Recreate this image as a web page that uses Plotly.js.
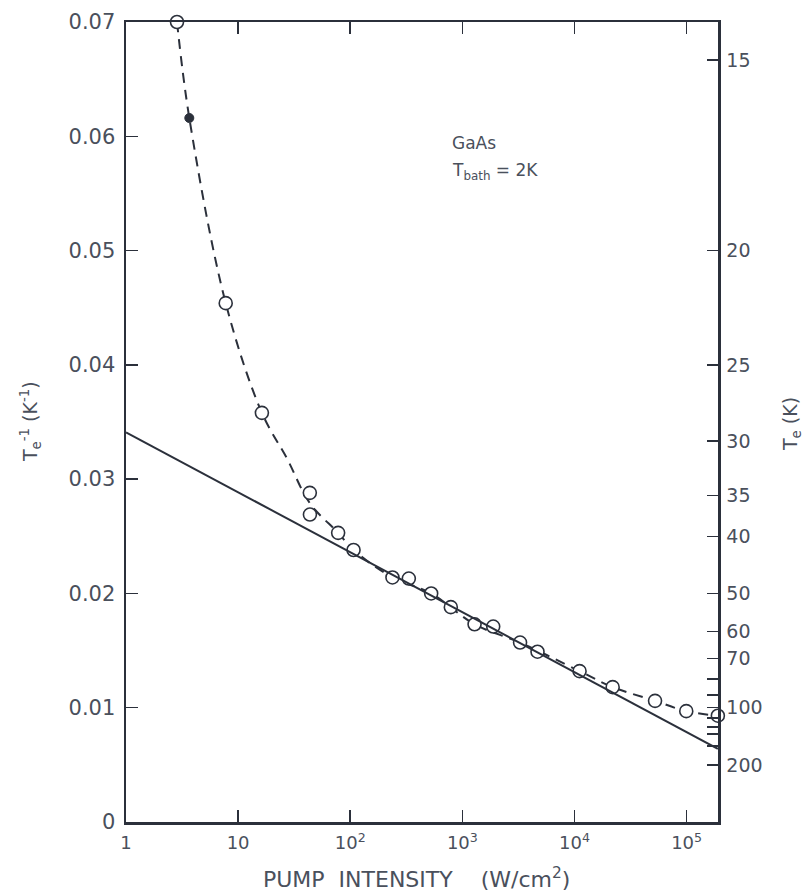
<!DOCTYPE html>
<html>
<head>
<meta charset="utf-8">
<script src="https://cdn.plot.ly/plotly-3.0.1.min.js"></script>
<style>html,body{margin:0;padding:0;background:#fff;}#chart{width:809px;height:892px;}</style>
</head>
<body>
<div id="chart"></div>
<script>
// Open-circle measurements: pump intensity (W/cm^2) vs 1/Te (1/K)
const circleX = [2.85, 7.75, 16.3, 43.6, 43.7, 78, 107, 238, 333, 527, 789, 1285, 1884, 3270, 4680, 11100, 21900, 52300, 99300, 190000];
const circleY = [0.0700, 0.0454, 0.0358, 0.0288, 0.0269, 0.0253, 0.0238, 0.0214, 0.0213, 0.0200, 0.0188, 0.0173, 0.0171, 0.0157, 0.0149, 0.0132, 0.0118, 0.0106, 0.0097, 0.0093];
// Filled point
const filledX = [3.67];
const filledY = [0.0616];
// Dashed guide curve
const dashX = [2.85, 3.67, 7.75, 16.3, 27.3, 43.6, 78, 107, 238, 527, 1285, 3270, 11100, 21900, 52300, 99300, 190000];
const dashY = [0.0700, 0.0616, 0.0454, 0.0358, 0.0318, 0.0279, 0.0253, 0.0238, 0.0214, 0.0200, 0.0173, 0.0157, 0.0132, 0.0118, 0.0106, 0.0097, 0.0093];
// Solid straight line
const lineX = [1, 190000];
const lineY = [0.0341, 0.0064];
// Axis ticks
const xTickVals = [1, 10, 100, 1000, 10000, 100000];
const xTickText = ['1', '10', '10<sup>2</sup>', '10<sup>3</sup>', '10<sup>4</sup>', '10<sup>5</sup>'];
const yTickVals = [0, 0.01, 0.02, 0.03, 0.04, 0.05, 0.06, 0.07];
const yTickText = ['0', '0.01', '0.02', '0.03', '0.04', '0.05', '0.06', '0.07'];
const teTicks  = [15, 20, 25, 30, 35, 40, 50, 60, 70, 80, 90, 100, 110, 120, 130, 150, 200];
const teLabels = ['15', '20', '25', '30', '35', '40', '50', '60', '70', '', '', '100', '', '', '', '', '200'];

const ink = '#2b303b';
const txt = '#4a505c';
const fnt = 'DejaVu Sans, sans-serif';

const traces = [
  {x: lineX, y: lineY, xaxis: 'x', yaxis: 'y2', mode: 'lines', line: {color: ink, width: 2}, hoverinfo: 'skip', cliponaxis: false},
  {x: dashX, y: dashY, mode: 'lines', line: {color: ink, width: 2, dash: '10px,7px', shape: 'spline', smoothing: 1}, hoverinfo: 'skip'},
  {x: circleX, y: circleY, mode: 'markers', cliponaxis: false,
   marker: {symbol: 'circle', size: 13, color: '#ffffff', line: {color: ink, width: 1.6}}},
  {x: filledX, y: filledY, mode: 'markers', cliponaxis: false,
   marker: {symbol: 'circle', size: 9, color: ink, line: {color: ink, width: 1}}}
];

const layout = {
  width: 809, height: 892,
  margin: {l: 126, r: 91, t: 22, b: 70},
  paper_bgcolor: '#ffffff', plot_bgcolor: '#ffffff',
  showlegend: false,
  font: {family: fnt, color: txt, size: 18},
  xaxis: {
    type: 'log', range: [0, 5.28],
    tickvals: xTickVals, ticktext: xTickText,
    ticks: 'inside', ticklen: 12, tickwidth: 1.5, tickcolor: ink,
    showline: true, linecolor: ink, linewidth: 2.5, mirror: 'ticks',
    showgrid: false, zeroline: false,
    ticklabelstandoff: 3,
    tickfont: {size: 18, color: txt, family: fnt}
  },
  yaxis: {
    range: [0, 0.07],
    tickvals: yTickVals, ticktext: yTickText,
    ticks: 'inside', ticklen: 12, tickwidth: 1.5, tickcolor: ink,
    showline: true, linecolor: ink, linewidth: 2.5, mirror: false,
    showgrid: false, zeroline: false,
    ticklabelstandoff: 4,
    tickfont: {size: 21, color: txt, family: fnt}
  },
  yaxis2: {
    overlaying: 'y', side: 'right', range: [0, 0.07],
    tickvals: teTicks.map(t => 1 / t), ticktext: teLabels,
    ticks: 'inside', ticklen: 11, tickwidth: 1.5, tickcolor: ink,
    showline: true, linecolor: ink, linewidth: 2.5,
    showgrid: false, zeroline: false,
    ticklabelstandoff: 2,
    tickfont: {size: 19, color: txt, family: fnt}
  },
  annotations: [
    {text: 'GaAs', xref: 'paper', yref: 'paper', x: 0.547, y: 0.849, xanchor: 'left', yanchor: 'middle', showarrow: false, font: {size: 17, color: txt, family: fnt}},
    {text: 'T<sub>bath</sub> = 2K', xref: 'paper', yref: 'paper', x: 0.547, y: 0.813, xanchor: 'left', yanchor: 'middle', showarrow: false, font: {size: 17, color: txt, family: fnt}},
    {text: 'T<sub>e</sub><sup>-1</sup> (K<sup>-1</sup>)', xref: 'paper', yref: 'paper', x: -0.162, y: 0.5, xanchor: 'center', yanchor: 'middle', textangle: -90, showarrow: false, font: {size: 19, color: txt, family: fnt}},
    {text: 'T<sub>e</sub> (K)', xref: 'paper', yref: 'paper', x: 1.125, y: 0.4975, xanchor: 'center', yanchor: 'middle', textangle: -90, showarrow: false, font: {size: 19, color: txt, family: fnt}},
    {text: 'PUMP  INTENSITY    (W/cm<sup>2</sup>)', xref: 'paper', yref: 'paper', x: 0.49, y: -0.07, xanchor: 'center', yanchor: 'middle', showarrow: false, font: {size: 22, color: txt, family: fnt}}
  ]
};

Plotly.newPlot('chart', traces, layout, {staticPlot: true, displayModeBar: false});
</script>
</body>
</html>
